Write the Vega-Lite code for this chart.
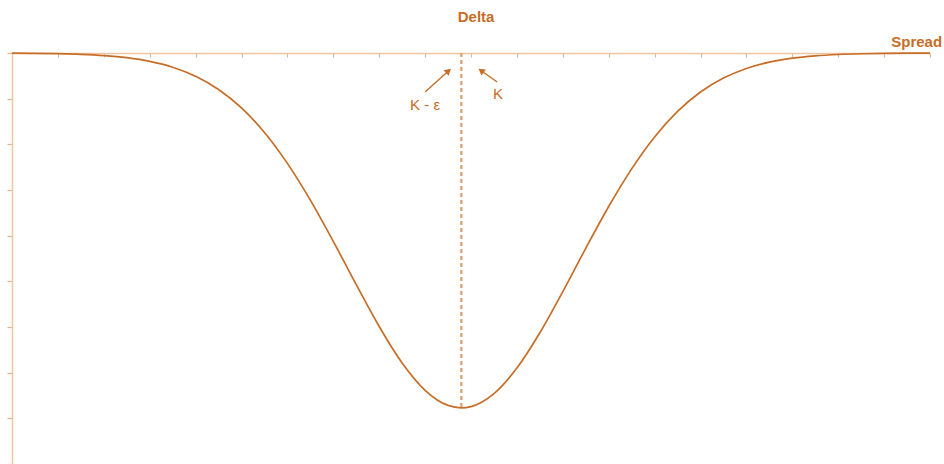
{
  "$schema": "https://vega.github.io/schema/vega-lite/v6.json",
  "autosize": "none",
  "width": 918,
  "height": 411,
  "padding": {"left": 12, "top": 53, "right": 14, "bottom": 0},
  "background": "white",
  "config": {"view": {"stroke": null}, "font": "Liberation Sans"},
  "layer": [
    {
      "data": {"values": [
        {"x": 0, "delta": -0.0032}, {"x": 0.5, "delta": -0.0070}, {"x": 1, "delta": -0.0145}, {"x": 1.5, "delta": -0.0291},
        {"x": 2, "delta": -0.0560}, {"x": 2.5, "delta": -0.1033}, {"x": 3, "delta": -0.1831}, {"x": 3.5, "delta": -0.3117},
        {"x": 4, "delta": -0.5094}, {"x": 4.5, "delta": -0.7990}, {"x": 5, "delta": -1.2037}, {"x": 5.5, "delta": -1.7405},
        {"x": 6, "delta": -2.4165}, {"x": 6.5, "delta": -3.2230}, {"x": 7, "delta": -4.1266}, {"x": 7.5, "delta": -5.0730},
        {"x": 8, "delta": -5.9883}, {"x": 8.5, "delta": -6.7871}, {"x": 9, "delta": -7.3854}, {"x": 9.5, "delta": -7.7171},
        {"x": 9.79, "delta": -7.77}, {"x": 10, "delta": -7.7422}, {"x": 10.5, "delta": -7.4580}, {"x": 11, "delta": -6.8982},
        {"x": 11.5, "delta": -6.1262}, {"x": 12, "delta": -5.2235}, {"x": 12.5, "delta": -4.2770}, {"x": 13, "delta": -3.3621},
        {"x": 13.5, "delta": -2.5378}, {"x": 14, "delta": -1.8392}, {"x": 14.5, "delta": -1.2800}, {"x": 15, "delta": -0.8552},
        {"x": 15.5, "delta": -0.5485}, {"x": 16, "delta": -0.3380}, {"x": 16.5, "delta": -0.1998}, {"x": 17, "delta": -0.1135},
        {"x": 17.5, "delta": -0.0619}, {"x": 18, "delta": -0.0324}, {"x": 18.5, "delta": -0.0163}, {"x": 19, "delta": -0.0079},
        {"x": 19.5, "delta": -0.0037}, {"x": 20, "delta": -0.0016}
      ]},
      "mark": {"type": "line", "color": "#c76d27", "strokeWidth": 1.7, "interpolate": "monotone"},
      "encoding": {
        "x": {"field": "x", "type": "quantitative",
          "scale": {"domain": [0, 20], "nice": false, "zero": false},
          "axis": {"orient": "top", "title": null, "labels": false, "grid": false,
            "values": [0,1,2,3,4,5,6,7,8,9,10,11,12,13,14,15,16,17,18,19,20],
            "tickSize": -4, "domainColor": "#efc6a4", "tickColor": "#e9b387", "domainWidth": 1.5, "tickWidth": 1}},
        "y": {"field": "delta", "type": "quantitative",
          "scale": {"domain": [-9, 0], "nice": false, "zero": false},
          "axis": {"orient": "left", "title": null, "labels": false, "grid": false,
            "values": [-9,-8,-7,-6,-5,-4,-3,-2,-1,0],
            "tickSize": 5, "domainColor": "#efc6a4", "tickColor": "#e9b387", "domainWidth": 1.5, "tickWidth": 1.2}}
      }
    },
    {
      "data": {"values": [{"x": 9.79, "y1": 0, "y2": -7.77}]},
      "mark": {"type": "rule", "color": "#dd9e6b", "strokeWidth": 2.2, "strokeDash": [4, 3]},
      "encoding": {
        "x": {"field": "x", "type": "quantitative"},
        "y": {"field": "y1", "type": "quantitative"},
        "y2": {"field": "y2"}
      }
    },
    {
      "data": {"values": [
        {"x1": 9.0, "y1": -0.853, "x2": 9.49, "y2": -0.41},
        {"x1": 10.57, "y1": -0.635, "x2": 10.24, "y2": -0.40}
      ]},
      "mark": {"type": "rule", "color": "#c76d27", "strokeWidth": 1.4},
      "encoding": {
        "x": {"field": "x1", "type": "quantitative"},
        "y": {"field": "y1", "type": "quantitative"},
        "x2": {"field": "x2"},
        "y2": {"field": "y2"}
      }
    },
    {
      "data": {"values": [
        {"x": 9.51, "y": -0.39, "angle": 48},
        {"x": 10.22, "y": -0.385, "angle": 306}
      ]},
      "mark": {"type": "point", "shape": "triangle-up", "filled": true, "color": "#c76d27", "size": 55, "opacity": 1},
      "encoding": {
        "x": {"field": "x", "type": "quantitative"},
        "y": {"field": "y", "type": "quantitative"},
        "angle": {"field": "angle", "type": "quantitative", "scale": null}
      }
    },
    {
      "data": {"values": [
        {"x": 9.0, "y": -1.13, "label": "K - ε"},
        {"x": 10.59, "y": -0.9, "label": "K"}
      ]},
      "mark": {"type": "text", "color": "#c76d27", "fontSize": 15, "baseline": "middle", "align": "center"},
      "encoding": {
        "x": {"field": "x", "type": "quantitative"},
        "y": {"field": "y", "type": "quantitative"},
        "text": {"field": "label"}
      }
    },
    {
      "data": {"values": [
        {"x": 10.11, "y": 0.78, "label": "Delta"},
        {"x": 19.71, "y": 0.25, "label": "Spread"}
      ]},
      "mark": {"type": "text", "color": "#c76d27", "fontSize": 15, "fontWeight": "bold", "baseline": "middle", "align": "center"},
      "encoding": {
        "x": {"field": "x", "type": "quantitative"},
        "y": {"field": "y", "type": "quantitative"},
        "text": {"field": "label"}
      }
    }
  ]
}
